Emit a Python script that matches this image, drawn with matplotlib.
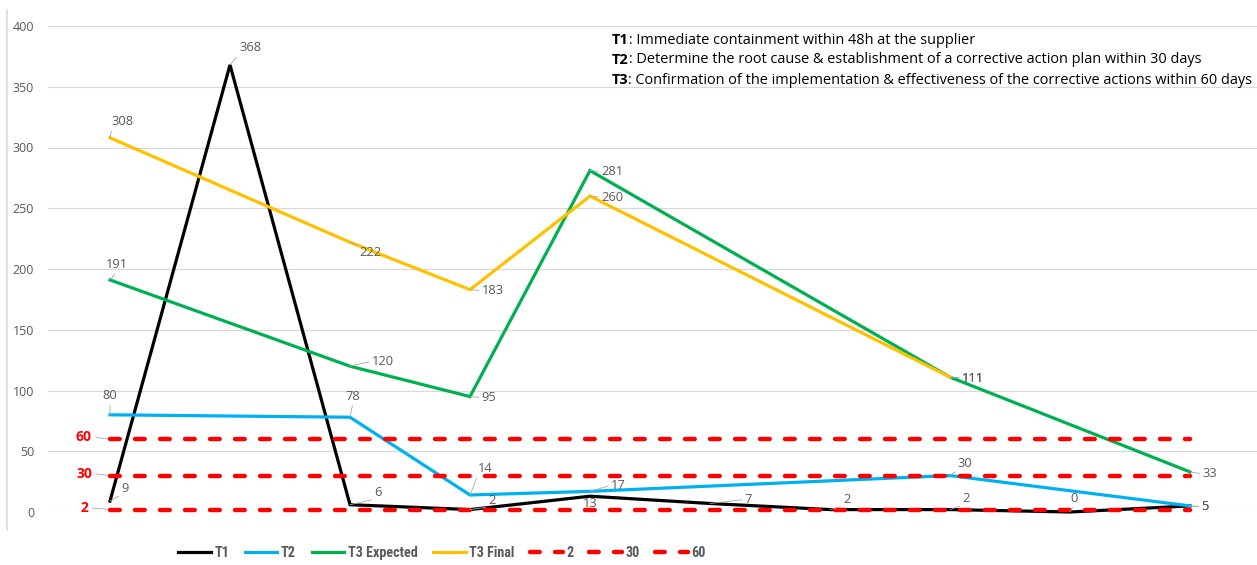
import numpy as np
import matplotlib.pyplot as plt
from matplotlib import font_manager
from matplotlib.lines import Line2D

# Ten reporting periods; nan = no value recorded for that period
periods = list(range(1, 11))
t1 = [9, 368, 6, 2, 13, 7, 2, 2, 0, 5]
t2 = [80, np.nan, 78, 14, 17, np.nan, np.nan, 30, np.nan, 5]
t3_expected = [191, np.nan, 120, 95, 281, np.nan, np.nan, 111, np.nan, 33]
t3_final = [308, np.nan, 222, 183, 260, np.nan, np.nan, 111, np.nan, np.nan]
thresholds = [2, 30, 60]

notes = [
    ("T1", ": Immediate containment within 48h at the supplier"),
    ("T2", ": Determine the root cause & establishment of a corrective action plan within 30 days"),
    ("T3", ": Confirmation of the implementation & effectiveness of the corrective actions within 60 days"),
]

GRAY = "#595959"
plt.rcParams["font.family"] = ["Open Sans", "DejaVu Sans"]

# narrow face for the legend if one is around
installed = {f.name for f in font_manager.fontManager.ttflist}
narrow = next((n for n in ["Liberation Sans Narrow", "DejaVu Sans Condensed",
                           "Roboto Condensed", "Open Sans Condensed"] if n in installed), None)
if narrow:
    leg_font = dict(family=[narrow, "DejaVu Sans"], weight="bold", size=10.2)
else:
    leg_font = dict(family=["Liberation Sans", "DejaVu Sans"], weight="bold", size=9)

fig = plt.figure(figsize=(12.57, 5.65), dpi=100)
ax = fig.add_axes([48 / 1257, 1 - 512 / 565, (1257 - 48) / 1257, (512 - 26) / 565])
x = np.arange(len(periods))

# label offsets in pixels (dx, dy) for each valid point
series = [
    ("T1", t1, "black",
     [(15, 13), (20, 17), (28, 12), (22, 9), (0, -7), (38, 4), (17, 10), (16, 11), (4, 14), (15, -1)]),
    ("T2", t2, "#00b0f0",
     [(0, 19), (3, 21), (15, 26), (28, 6), (15, 12), (15, -1)]),
    ("T3 Expected", t3_expected, "#00b050",
     [(7, 15), (33, 5), (19, -1), (22, -1), (23, -1), (20, -2)]),
    ("T3 Final", t3_final, "#ffc000",
     [(13, 16), (20, -10), (23, -1), (22, -1), (23, -1)]),
]

handles = []
for name, vals, color, offs in series:
    vals = np.array(vals, dtype=float)
    ok = ~np.isnan(vals)
    ln, = ax.plot(x[ok], vals[ok], color=color, lw=2.3, label=name,
                  clip_on=False, zorder=3, solid_joinstyle="miter")
    handles.append(ln)
    for xi, yi, (dx, dy) in zip(x[ok], vals[ok], offs):
        arrow = None
        if np.hypot(dx, dy) > 14:
            rx = 0 if dx > 8 else (1 if dx < -8 else 0.5)
            ry = 0 if dy > 8 else (1 if dy < -8 else 0.5)
            arrow = dict(arrowstyle="-", color="#a6a6a6", lw=0.6,
                         shrinkA=0, shrinkB=0, relpos=(rx, ry))
        ax.annotate(f"{yi:.0f}", (xi, yi), xytext=(dx, dy), textcoords="offset pixels",
                    ha="center", va="center", fontsize=9.3, color=GRAY,
                    arrowprops=arrow, zorder=5)

plt.rcParams["lines.scale_dashes"] = False
for t in thresholds:
    ln, = ax.plot(x, [t] * len(x), color="#ff0000", lw=3.2, ls=(0, (7, 11)),
                  dash_capstyle="round", label=str(t), zorder=4, clip_on=False)
    handles.append(ln)
    ax.annotate(str(t), (x[0], t), xytext=(-26, 2), textcoords="offset pixels",
                ha="center", va="center", fontsize=10, fontweight="bold", color="#ff0000",
                arrowprops=dict(arrowstyle="-", color="#a6a6a6", lw=0.6,
                                shrinkA=1, shrinkB=0, relpos=(1, 0.5)))

ax.set_xlim(-62 / 120, 9 + 67 / 120)
ax.set_ylim(0, 400)
ax.set_yticks(range(0, 401, 50))
ax.set_xticks([])
ax.tick_params(axis="y", length=0, pad=10, labelsize=9, labelcolor=GRAY)
ax.grid(axis="y", color="#d9d9d9", lw=0.9)
ax.set_axisbelow(True)
for s in ax.spines.values():
    s.set_visible(False)

# chart border on the left
fig.add_artist(Line2D([7 / 1257, 7 / 1257], [1 - 530 / 565, 1 - 10 / 565],
                      color="#d9d9d9", lw=1.2))

leg = fig.legend(handles=handles, loc="center", bbox_to_anchor=(442 / 1257, 1 - 553 / 565),
                 ncol=7, frameon=False, handlelength=2.3, handletextpad=0.25,
                 columnspacing=1.1, prop=leg_font)
for txt in leg.get_texts():
    txt.set_color(GRAY)

# notes box, bold series name followed by description
renderer = fig.canvas.get_renderer()
for i, (key, desc) in enumerate(notes):
    yy = 1 - (40 + i * 20) / 565
    b = fig.text(612 / 1257, yy, key, fontsize=10.45, fontweight="bold", color="black", va="center")
    w = b.get_window_extent(renderer).width
    fig.text((612 + w) / 1257, yy, desc, fontsize=10.45, color="black", va="center")

fig.savefig("out.png", dpi=100)
